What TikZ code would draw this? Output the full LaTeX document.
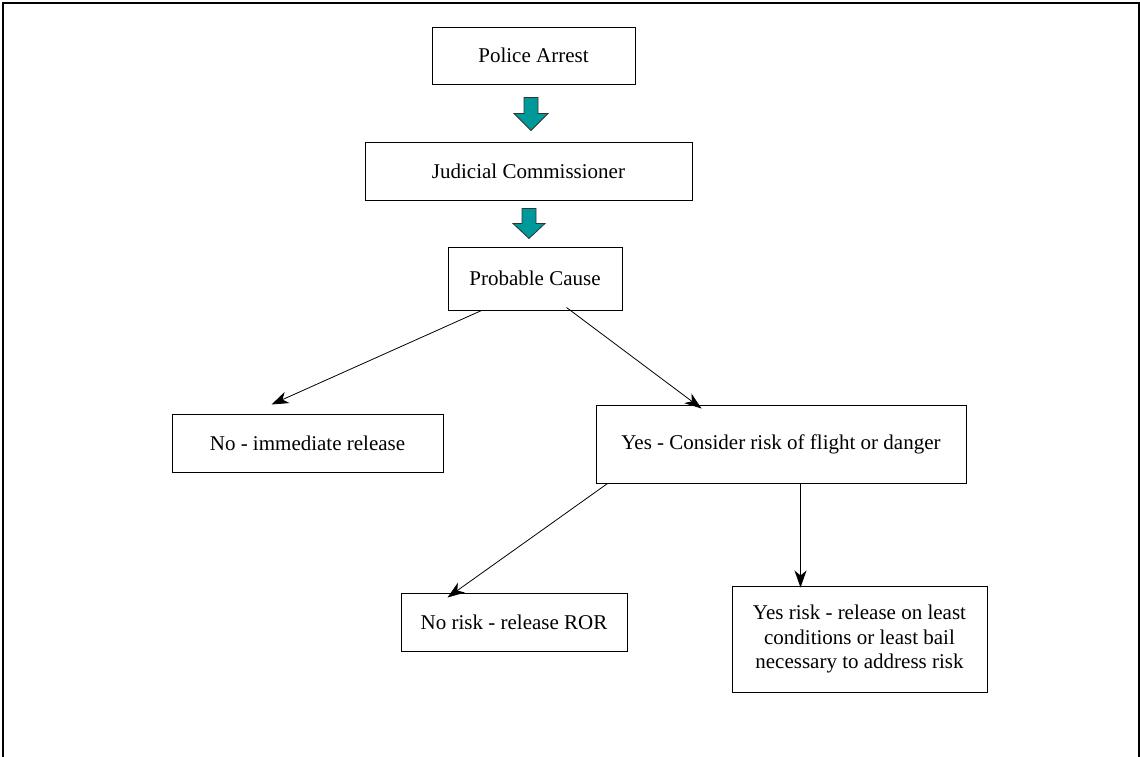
\documentclass[tikz,border=0pt]{standalone}
\usepackage{fontspec}
\setmainfont{Liberation Serif}
\usetikzlibrary{arrows.meta,calc}
\definecolor{blockfill}{RGB}{0,153,153}
\begin{document}
\begin{tikzpicture}[x=1pt,y=-1pt,
  box/.style={draw, line width=1pt, inner sep=0pt, font=\fontsize{21}{24.5}\selectfont, align=center},
  conn/.style={line width=0.8pt, -{Stealth[length=17pt,width=12pt,inset=5pt]}},
  blockarrow/.style={draw=black!80, line width=0.8pt, fill=blockfill}]
\useasboundingbox (0,0) rectangle (1140,756);
\draw[line width=2pt] (3,780) -- (3,3) -- (1139,3) -- (1139,780);

\node[box, minimum width=203pt, minimum height=57pt] (pa) at (533.5,55.5) {Police Arrest};
\node[box, minimum width=327pt, minimum height=58pt] (jc) at (528.5,171) {Judicial Commissioner};
\node[box, minimum width=174pt, minimum height=63pt] (pc) at (535,278.5) {Probable Cause};
\node[box, minimum width=271pt, minimum height=58pt] (no) at (307.5,443) {No - immediate release};
\node[box, minimum width=370pt, minimum height=78pt] (yes) at (781,444) {Yes - Consider risk of flight or danger};
\node[box, minimum width=226pt, minimum height=58pt] (nr) at (514,622) {No risk - release ROR};
\node[box, minimum width=255pt, minimum height=106pt] (yr) at (859.5,639) {Yes risk - release on least\\conditions or least bail\\necessary to address risk};

\coordinate (ba1) at ($(pa.south)+(-2.5,13)$);
\draw[blockarrow] (ba1) ++(-7,0) -- ++(14,0) -- ++(0,16) -- ++(10,0) -- ++(-17,17) -- ++(-17,-17) -- ++(10,0) -- cycle;
\coordinate (ba2) at ($(jc.south)+(0.5,8)$);
\draw[blockarrow] (ba2) ++(-7,0) -- ++(14,0) -- ++(0,15) -- ++(9,0) -- ++(-16,15) -- ++(-16,-15) -- ++(9,0) -- cycle;

\draw[conn] ($(pc.south west)+(34,0)$) -- ($(no.north west)+(100,-9)$);
\draw[conn] ($(pc.south west)+(119,-3)$) -- ($(yes.north west)+(106,4)$);
\draw[conn] ($(yes.south west)+(12,0)$) -- ($(nr.north west)+(47,5)$);
\draw[conn] ($(yes.south west)+(205,0)$) -- ($(yr.north west)+(69,2)$);
\end{tikzpicture}
\end{document}
